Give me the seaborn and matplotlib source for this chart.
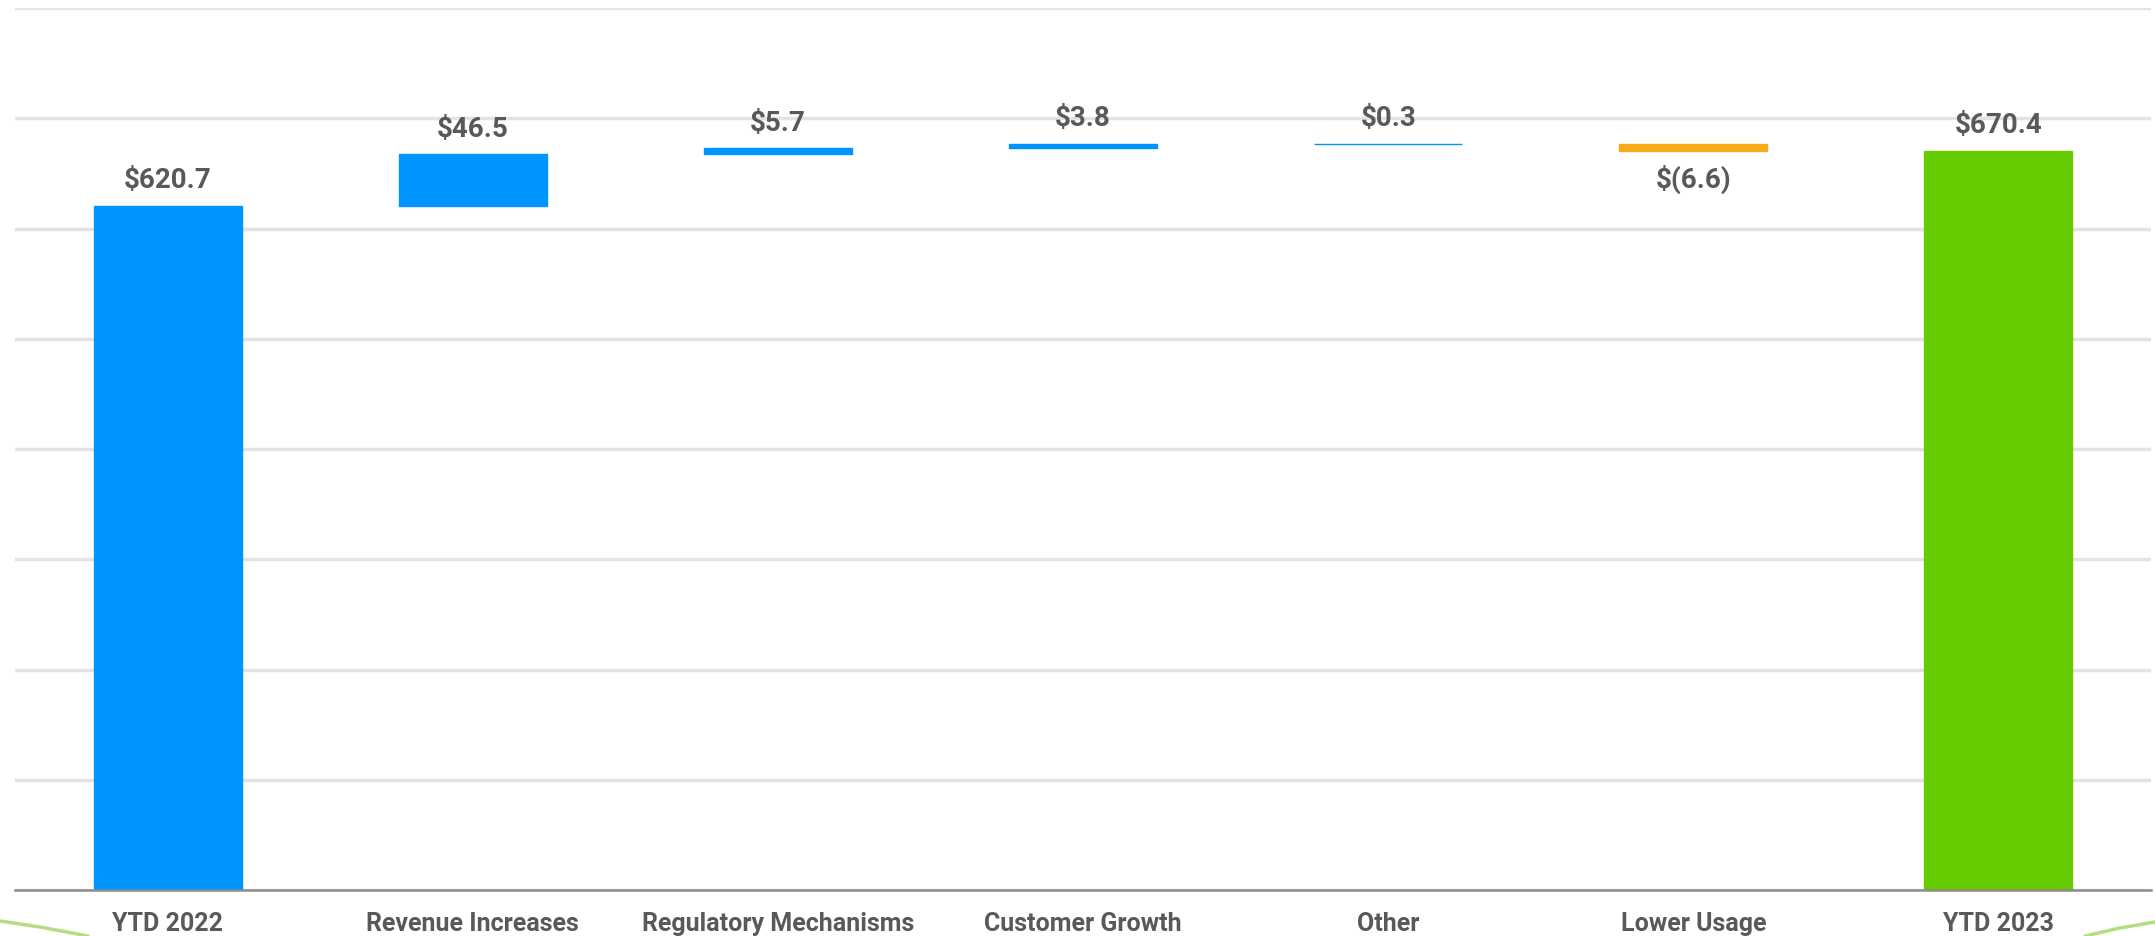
import matplotlib
matplotlib.use("Agg")
import matplotlib.pyplot as plt
from matplotlib.lines import Line2D
from matplotlib import font_manager
import seaborn as sns
import numpy as np

categories = ["YTD 2022", "Revenue Increases", "Regulatory Mechanisms",
              "Customer Growth", "Other", "Lower Usage", "YTD 2023"]
changes = [620.7, 46.5, 5.7, 3.8, 0.3, -6.6, 670.4]
labels = ["$620.7", "$46.5", "$5.7", "$3.8", "$0.3", "$(6.6)", "$670.4"]
kinds = ["total", "up", "up", "up", "up", "down", "total"]
kind_colors = {"total_start": "#0094FF", "up": "#0094FF", "down": "#F9AA1A", "total_end": "#66CC00"}

# waterfall bottoms/heights
bottoms, heights = [], []
running = 0.0
for i, (c, k) in enumerate(zip(changes, kinds)):
    if k == "total":
        bottoms.append(0.0)
        heights.append(c)
        running = c
    else:
        bottoms.append(running)
        heights.append(c)
        running += c
colors = []
for i, k in enumerate(kinds):
    if k == "total":
        colors.append(kind_colors["total_start"] if i == 0 else kind_colors["total_end"])
    else:
        colors.append(kind_colors[k])

sns.set_theme(style="white")
names = [f.name for f in font_manager.fontManager.ttflist]
fam = "Liberation Sans Narrow" if "Liberation Sans Narrow" in names else "Roboto"
plt.rcParams["font.family"] = [fam, "DejaVu Sans"]

W, H = 2155, 937
fig = plt.figure(figsize=(W / 100, H / 100), dpi=100)
ax = fig.add_axes([15 / W, 1 - 891 / H, (2151 - 15) / W, (891 - 9) / H])

sns.barplot(x=categories, y=heights, bottom=bottoms, order=categories,
            color="#0094FF", width=0.485, ax=ax, linewidth=0, saturation=1)
for p, col in zip(ax.patches, colors):
    p.set_facecolor(col)
    p.set_edgecolor(col)
    p.set_linewidth(1.0)

ax.set_xlim(-0.5, 6.5)
ax.set_ylim(0, 800)
ax.set_yticks(np.arange(0, 801, 100))
ax.yaxis.grid(True, color="#E3E3E3", linewidth=2.5)
ax.set_axisbelow(True)
ax.tick_params(axis="y", left=False, labelleft=False)
ax.tick_params(axis="x", bottom=False, pad=9)
for s in ["top", "right", "left"]:
    ax.spines[s].set_visible(False)
ax.spines["bottom"].set_color("#8C8C8C")
ax.spines["bottom"].set_linewidth(1.8)
ax.spines["bottom"].set_zorder(5)
ax.set_xlabel("")
ax.set_ylabel("")
for t in ax.get_xticklabels():
    t.set_fontsize(18)
    t.set_fontweight("bold")
    t.set_color("#595959")

for i, (b, h, lab) in enumerate(zip(bottoms, heights, labels)):
    if h >= 0:
        ax.annotate(lab, (i, b + h), xytext=(0, 9), textcoords="offset points",
                    ha="center", va="bottom", fontsize=20, fontweight="bold", color="#595959")
    else:
        ax.annotate(lab, (i, b + h), xytext=(0, -9), textcoords="offset points",
                    ha="center", va="top", fontsize=20, fontweight="bold", color="#595959")

# decorative green swooshes at bottom corners
fig.add_artist(Line2D([0 / W, 40 / W, 88 / W], [1 - 922 / H, 1 - 928 / H, 1 - 937 / H],
                      transform=fig.transFigure, color="#B5DE84", linewidth=2.5))
fig.add_artist(Line2D([2085 / W, 2120 / W, 2155 / W], [1 - 937 / H, 1 - 929 / H, 1 - 923 / H],
                      transform=fig.transFigure, color="#B5DE84", linewidth=2.5))

fig.savefig("out.png", dpi=100, facecolor="white")
